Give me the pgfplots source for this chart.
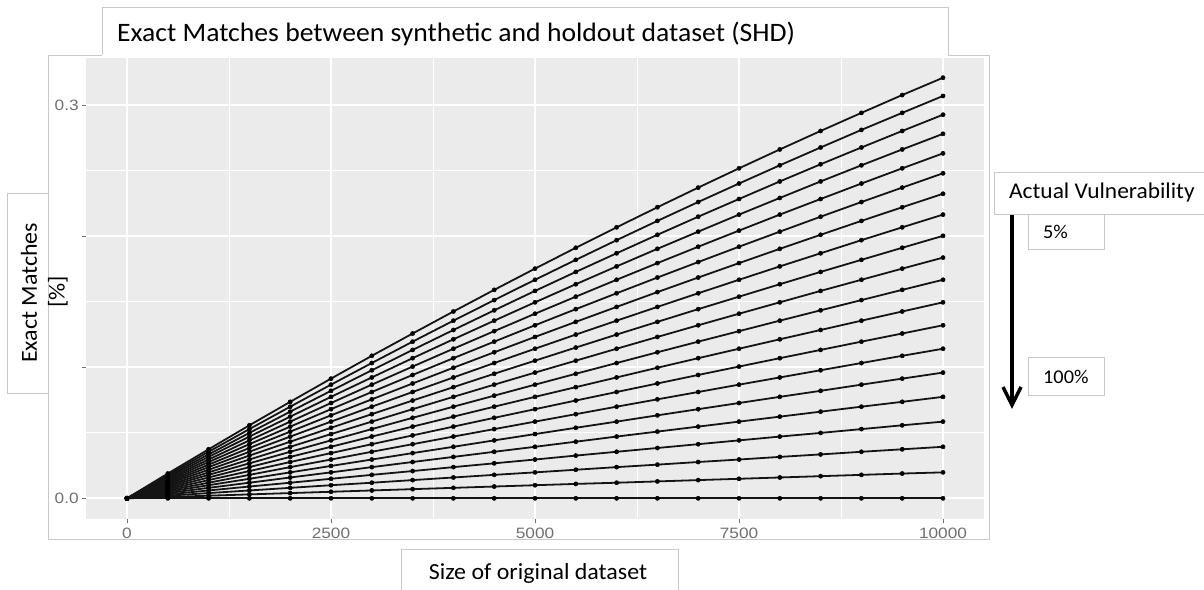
\documentclass[border=0pt]{standalone}
\usepackage{pgfplots}
\pgfplotsset{compat=1.18}
\usepackage{fontspec}
\setmainfont[FakeStretch=1.04]{Carlito}
\newfontfamily\tickfont[FakeStretch=1.15]{Liberation Sans}
\definecolor{panel}{HTML}{EBEBEB}
\definecolor{tickgray}{HTML}{707070}
\definecolor{boxgray}{HTML}{C8C8C8}
\definecolor{linec}{HTML}{141414}
\pgfplotsset{ser/.style={color=linec, line width=1.8bp, mark=*, mark size=2.1bp, mark options={solid, fill=black, draw=black, line width=0.5bp}}}
\begin{document}
\begin{tikzpicture}
\fill[white] (0,0) rectangle (1204bp,-590bp);
\path[use as bounding box] (0,0) rectangle (1204bp,-590bp);
\begin{axis}[
  at={(86.2bp,-57.8bp)}, anchor=north west,
  scale only axis, width=897.6bp, height=461.5bp,
  xmin=-500, xmax=10500, ymin=-0.016, ymax=0.336,
  axis background/.style={fill=panel},
  axis line style={draw=none},
  scaled x ticks=false, scaled y ticks=false,
  grid=both,
  major grid style={white, line width=1.8bp},
  minor grid style={white, line width=1bp},
  xtick={0,2500,5000,7500,10000},
  xticklabels={0,2500,5000,7500,10000},
  minor xtick={1250,3750,6250,8750},
  ytick={0,0.1,0.2,0.3},
  yticklabels={0.0,,,0.3},
  minor ytick={0.05,0.15,0.25},
  tick align=outside, tick pos=left,
  major tick length=4bp, minor tick length=0pt,
  tick style={color=tickgray, line width=1bp},
  ticklabel style={font=\tickfont\fontsize{15bp}{17bp}\selectfont, text=tickgray},
  xticklabel style={yshift=-1bp},
]
\addplot[ser] coordinates {(0,0) (500,0.0189) (1000,0.0374) (1500,0.0557) (2000,0.0736) (2500,0.0913) (3000,0.1087) (3500,0.1257) (4000,0.1425) (4500,0.1590) (5000,0.1752) (5500,0.1911) (6000,0.2067) (6500,0.2220) (7000,0.2370) (7500,0.2517) (8000,0.2661) (8500,0.2802) (9000,0.2940) (9500,0.3076) (10000,0.3208)};
\addplot[ser] coordinates {(0,0) (500,0.0179) (1000,0.0355) (1500,0.0528) (2000,0.0699) (2500,0.0867) (3000,0.1032) (3500,0.1195) (4000,0.1355) (4500,0.1512) (5000,0.1667) (5500,0.1819) (6000,0.1969) (6500,0.2116) (7000,0.2260) (7500,0.2401) (8000,0.2540) (8500,0.2676) (9000,0.2810) (9500,0.2940) (10000,0.3069)};
\addplot[ser] coordinates {(0,0) (500,0.0169) (1000,0.0335) (1500,0.0499) (2000,0.0661) (2500,0.0820) (3000,0.0977) (3500,0.1132) (4000,0.1284) (4500,0.1434) (5000,0.1582) (5500,0.1727) (6000,0.1869) (6500,0.2010) (7000,0.2148) (7500,0.2283) (8000,0.2417) (8500,0.2548) (9000,0.2676) (9500,0.2802) (10000,0.2926)};
\addplot[ser] coordinates {(0,0) (500,0.0159) (1000,0.0316) (1500,0.0471) (2000,0.0623) (2500,0.0774) (3000,0.0922) (3500,0.1069) (4000,0.1213) (4500,0.1355) (5000,0.1495) (5500,0.1633) (6000,0.1769) (6500,0.1903) (7000,0.2034) (7500,0.2164) (8000,0.2291) (8500,0.2417) (9000,0.2540) (9500,0.2661) (10000,0.2780)};
\addplot[ser] coordinates {(0,0) (500,0.0149) (1000,0.0296) (1500,0.0442) (2000,0.0585) (2500,0.0727) (3000,0.0867) (3500,0.1005) (4000,0.1141) (4500,0.1275) (5000,0.1408) (5500,0.1538) (6000,0.1667) (6500,0.1794) (7000,0.1919) (7500,0.2042) (8000,0.2164) (8500,0.2283) (9000,0.2401) (9500,0.2517) (10000,0.2631)};
\addplot[ser] coordinates {(0,0) (500,0.0139) (1000,0.0277) (1500,0.0413) (2000,0.0547) (2500,0.0680) (3000,0.0811) (3500,0.0941) (4000,0.1069) (4500,0.1195) (5000,0.1320) (5500,0.1443) (6000,0.1564) (6500,0.1684) (7000,0.1802) (7500,0.1919) (8000,0.2034) (8500,0.2148) (9000,0.2260) (9500,0.2370) (10000,0.2479)};
\addplot[ser] coordinates {(0,0) (500,0.0129) (1000,0.0257) (1500,0.0384) (2000,0.0509) (2500,0.0633) (3000,0.0755) (3500,0.0876) (4000,0.0996) (4500,0.1114) (5000,0.1231) (5500,0.1346) (6000,0.1460) (6500,0.1573) (7000,0.1684) (7500,0.1794) (8000,0.1903) (8500,0.2010) (9000,0.2116) (9500,0.2220) (10000,0.2323)};
\addplot[ser] coordinates {(0,0) (500,0.0119) (1000,0.0238) (1500,0.0355) (2000,0.0471) (2500,0.0585) (3000,0.0699) (3500,0.0811) (4000,0.0922) (4500,0.1032) (5000,0.1141) (5500,0.1249) (6000,0.1355) (6500,0.1460) (7000,0.1564) (7500,0.1667) (8000,0.1769) (8500,0.1869) (9000,0.1969) (9500,0.2067) (10000,0.2164)};
\addplot[ser] coordinates {(0,0) (500,0.0110) (1000,0.0218) (1500,0.0326) (2000,0.0432) (2500,0.0538) (3000,0.0642) (3500,0.0746) (4000,0.0848) (4500,0.0950) (5000,0.1050) (5500,0.1150) (6000,0.1249) (6500,0.1346) (7000,0.1443) (7500,0.1538) (8000,0.1633) (8500,0.1727) (9000,0.1819) (9500,0.1911) (10000,0.2002)};
\addplot[ser] coordinates {(0,0) (500,0.0100) (1000,0.0198) (1500,0.0296) (2000,0.0393) (2500,0.0490) (3000,0.0585) (3500,0.0680) (4000,0.0774) (4500,0.0867) (5000,0.0959) (5500,0.1050) (6000,0.1141) (6500,0.1231) (7000,0.1320) (7500,0.1408) (8000,0.1495) (8500,0.1582) (9000,0.1667) (9500,0.1752) (10000,0.1836)};
\addplot[ser] coordinates {(0,0) (500,0.0090) (1000,0.0179) (1500,0.0267) (2000,0.0355) (2500,0.0442) (3000,0.0528) (3500,0.0614) (4000,0.0699) (4500,0.0783) (5000,0.0867) (5500,0.0950) (6000,0.1032) (6500,0.1114) (7000,0.1195) (7500,0.1275) (8000,0.1355) (8500,0.1434) (9000,0.1512) (9500,0.1590) (10000,0.1667)};
\addplot[ser] coordinates {(0,0) (500,0.0080) (1000,0.0159) (1500,0.0238) (2000,0.0316) (2500,0.0393) (3000,0.0471) (3500,0.0547) (4000,0.0623) (4500,0.0699) (5000,0.0774) (5500,0.0848) (6000,0.0922) (6500,0.0996) (7000,0.1069) (7500,0.1141) (8000,0.1213) (8500,0.1284) (9000,0.1355) (9500,0.1425) (10000,0.1495)};
\addplot[ser] coordinates {(0,0) (500,0.0070) (1000,0.0139) (1500,0.0208) (2000,0.0277) (2500,0.0345) (3000,0.0413) (3500,0.0480) (4000,0.0547) (4500,0.0614) (5000,0.0680) (5500,0.0746) (6000,0.0811) (6500,0.0876) (7000,0.0941) (7500,0.1005) (8000,0.1069) (8500,0.1132) (9000,0.1195) (9500,0.1257) (10000,0.1320)};
\addplot[ser] coordinates {(0,0) (500,0.0060) (1000,0.0119) (1500,0.0179) (2000,0.0238) (2500,0.0296) (3000,0.0355) (3500,0.0413) (4000,0.0471) (4500,0.0528) (5000,0.0585) (5500,0.0642) (6000,0.0699) (6500,0.0755) (7000,0.0811) (7500,0.0867) (8000,0.0922) (8500,0.0977) (9000,0.1032) (9500,0.1087) (10000,0.1141)};
\addplot[ser] coordinates {(0,0) (500,0.0050) (1000,0.0100) (1500,0.0149) (2000,0.0198) (2500,0.0247) (3000,0.0296) (3500,0.0345) (4000,0.0393) (4500,0.0442) (5000,0.0490) (5500,0.0538) (6000,0.0585) (6500,0.0633) (7000,0.0680) (7500,0.0727) (8000,0.0774) (8500,0.0820) (9000,0.0867) (9500,0.0913) (10000,0.0959)};
\addplot[ser] coordinates {(0,0) (500,0.0040) (1000,0.0080) (1500,0.0119) (2000,0.0159) (2500,0.0198) (3000,0.0238) (3500,0.0277) (4000,0.0316) (4500,0.0355) (5000,0.0393) (5500,0.0432) (6000,0.0471) (6500,0.0509) (7000,0.0547) (7500,0.0585) (8000,0.0623) (8500,0.0661) (9000,0.0699) (9500,0.0736) (10000,0.0774)};
\addplot[ser] coordinates {(0,0) (500,0.0030) (1000,0.0060) (1500,0.0090) (2000,0.0119) (2500,0.0149) (3000,0.0179) (3500,0.0208) (4000,0.0238) (4500,0.0267) (5000,0.0296) (5500,0.0326) (6000,0.0355) (6500,0.0384) (7000,0.0413) (7500,0.0442) (8000,0.0471) (8500,0.0499) (9000,0.0528) (9500,0.0557) (10000,0.0585)};
\addplot[ser] coordinates {(0,0) (500,0.0020) (1000,0.0040) (1500,0.0060) (2000,0.0080) (2500,0.0100) (3000,0.0119) (3500,0.0139) (4000,0.0159) (4500,0.0179) (5000,0.0198) (5500,0.0218) (6000,0.0238) (6500,0.0257) (7000,0.0277) (7500,0.0296) (8000,0.0316) (8500,0.0335) (9000,0.0355) (9500,0.0374) (10000,0.0393)};
\addplot[ser] coordinates {(0,0) (500,0.0010) (1000,0.0020) (1500,0.0030) (2000,0.0040) (2500,0.0050) (3000,0.0060) (3500,0.0070) (4000,0.0080) (4500,0.0090) (5000,0.0100) (5500,0.0110) (6000,0.0119) (6500,0.0129) (7000,0.0139) (7500,0.0149) (8000,0.0159) (8500,0.0169) (9000,0.0179) (9500,0.0189) (10000,0.0198)};
\addplot[ser] coordinates {(0,0) (500,0) (1000,0) (1500,0) (2000,0) (2500,0) (3000,0) (3500,0) (4000,0) (4500,0) (5000,0) (5500,0) (6000,0) (6500,0) (7000,0) (7500,0) (8000,0) (8500,0) (9000,0) (9500,0) (10000,0)};
\end{axis}
\begin{scope}[x=1bp, y=-1bp]
  % outer plot border
  \draw[boxgray, line width=0.9bp] (48,55) rectangle (989,539);
  % title box
  \fill[white] (102,7) rectangle (948,56);
  \draw[boxgray, line width=0.9bp] (102,55) -- (102,7) -- (948,7) -- (948,55);
  \node[anchor=base west, inner sep=0pt, font=\fontsize{26.6bp}{30bp}\selectfont] at (117,41) {Exact Matches between synthetic and holdout dataset (SHD)};
  % y label box
  \fill[white] (7,193) rectangle (48,393);
  \draw[boxgray, line width=0.9bp] (48,193) -- (7,193) -- (7,393) -- (48,393);
  \node[rotate=90, inner sep=0pt, font=\fontsize{23bp}{27bp}\selectfont] at (29,293) {Exact Matches};
  \node[rotate=90, inner sep=0pt, font=\fontsize{23bp}{27bp}\selectfont] at (58,292) {[\%]};
  % x label box
  \fill[white] (401,549) rectangle (678,592);
  \draw[boxgray, line width=0.9bp] (401,592) -- (401,549) -- (678,549) -- (678,592);
  \node[inner sep=0pt, font=\fontsize{23bp}{27bp}\selectfont] at (538,573) {Size of original dataset};
  % legend boxes
  \fill[white] (994,172) rectangle (1204,214);
  \draw[boxgray, line width=0.9bp] (1205,172) -- (994,172) -- (994,214) -- (1205,214);
  \node[anchor=west, inner sep=0pt, font=\fontsize{22.5bp}{26bp}\selectfont] at (1009,193) {Actual Vulnerability};
  \fill[white] (1028,214.5) rectangle (1104,249);
  \draw[boxgray, line width=0.9bp] (1028,214) -- (1028,249) -- (1104,249) -- (1104,214);
  \node[anchor=west, inner sep=0pt, font=\fontsize{19.5bp}{22bp}\selectfont] at (1043,232) {5\%};
  \fill[white] (1028,357) rectangle (1104,395);
  \draw[boxgray, line width=0.9bp] (1028,357) rectangle (1104,395);
  \node[anchor=west, inner sep=0pt, font=\fontsize{19.5bp}{22bp}\selectfont] at (1043,377) {100\%};
  % arrow
  \draw[black, line width=4bp] (1012,215) -- (1012,402);
  \draw[black, line width=3.5bp, line join=miter, line cap=butt] (1003,387) -- (1012,405) -- (1021,387);
\end{scope}
\end{tikzpicture}
\end{document}
